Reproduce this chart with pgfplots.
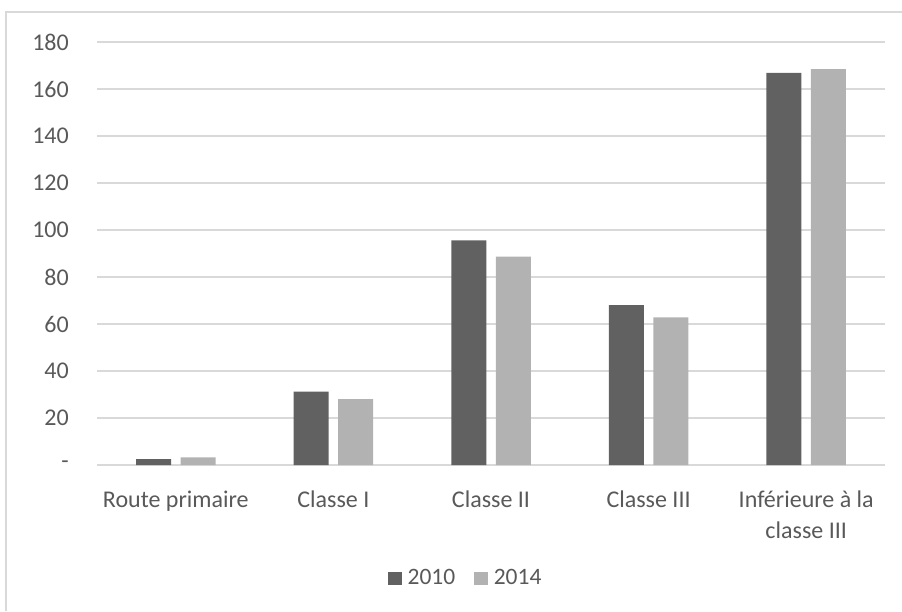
\documentclass[border=0pt]{standalone}
\usepackage{pgfplots}
\pgfplotsset{compat=1.18}
\usepackage{fontspec}
\setmainfont{Carlito}
\definecolor{txt}{HTML}{595959}
\definecolor{gridc}{HTML}{D9D9D9}
\definecolor{cA}{HTML}{616161}
\definecolor{cB}{HTML}{B2B2B2}
\begin{document}
\begin{tikzpicture}[x=1pt,y=1pt]
\path[use as bounding box] (0,0) rectangle (902,611);
\draw[gridc, line width=1.3pt] (6,0) -- (6,599) -- (902,599);
\begin{axis}[
  at={(97pt,146pt)}, anchor=south west,
  scale only axis, width=788pt, height=423pt,
  xmin=-0.5, xmax=4.5, ymin=0, ymax=180,
  ybar=9.5pt, bar width=35pt,
  axis x line=bottom, axis y line=left,
  axis line style={draw=none},
  major tick length=0pt,
  ymajorgrids, grid style={gridc, line width=1.3pt},
  xtick={0,1,2,3,4},
  xticklabels={Route primaire, Classe I, Classe II, Classe III, {Inférieure à la\\classe III}},
  xticklabel style={align=center, text=txt, font=\fontsize{24}{30.5}\selectfont, inner sep=0pt, yshift=-26pt},
  ytick={0,20,40,60,80,100,120,140,160,180},
  yticklabels={-,20,40,60,80,100,120,140,160,180},
  yticklabel style={text=txt, font=\fontsize{24}{28}\selectfont, inner sep=0pt, xshift=-28pt},
  legend style={at={(0.468,-0.267)}, anchor=center, draw=none, fill=none,
    legend columns=2, font=\fontsize{23.5}{28}\selectfont, text=txt,
    /tikz/every even column/.append style={column sep=17pt},
    /tikz/every odd column/.append style={column sep=0pt}},
  legend cell align=left,
]
\addplot[fill=cA, draw=none, legend image code/.code={\fill[cA] (0pt,-7.5pt) rectangle (13.5pt,5.5pt);}]
  coordinates {(0,2.5) (1,31.2) (2,95.6) (3,68.0) (4,166.9)};
\addlegendentry{\hspace{4pt}2010}
\addplot[fill=cB, draw=none, legend image code/.code={\fill[cB] (0pt,-7.5pt) rectangle (13.5pt,5.5pt);}]
  coordinates {(0,3.2) (1,28.0) (2,88.7) (3,62.8) (4,168.5)};
\addlegendentry{\hspace{4pt}2014}
\end{axis}
\end{tikzpicture}
\end{document}
